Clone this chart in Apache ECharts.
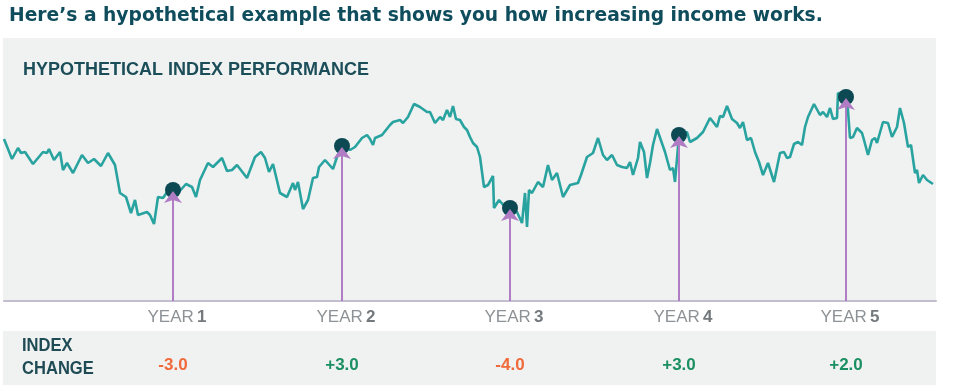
<!DOCTYPE html>
<html>
<head>
<meta charset="utf-8">
<script src="https://cdn.jsdelivr.net/npm/echarts@6/dist/echarts.min.js"></script>
<style>html,body{margin:0;padding:0;background:#fff}#c{width:960px;height:388px}</style>
</head>
<body>
<div id="c"></div>
<script>
// Hypothetical index level by trading day
const indexSeries = [
[0,162],[8,142],[14,153],[17,148],[21,149],[29,137],[39,149],[43,148],[45,152],[50,141],[56,149],[59,131],[63,138],[69,128],[78,146],[84,138],[90,142],[97,135],[104,148],[111,136],[116,108],[122,104],[127,88],[131,101],[134,86],[143,89],[146,86],[150,77],[154,104],[159,103],[166,113],[169,112],[174,108],[182,117],[188,114],[192,104],[196,121],[204,138],[209,134],[218,143],[223,130],[228,131],[233,136],[243,123],[251,144],[257,149],[261,143],[265,129],[269,137],[276,108],[283,104],[289,118],[291,111],[294,119],[299,92],[304,101],[309,123],[313,124],[315,134],
[321,141],[329,132],[333,144],[338,156],[346,151],[351,154],[358,163],[363,166],[366,162],[369,156],[371,163],[378,166],[386,176],[389,179],[396,181],[399,178],[404,184],[410,197],[416,194],[423,189],[426,189],[431,178],[436,184],[439,181],[443,191],[446,184],[449,195],[452,182],[456,181],[460,174],[463,171],[466,164],[469,158],[473,154],[476,144],[480,114],[484,116],[489,125],[490,93],[495,101],[501,94],[506,94],[513,89],[518,78],[521,108],[523,74],[525,111],[528,108],[534,119],[539,114],[544,136],[548,121],[553,128],[559,104],[566,116],[574,118],[577,126],[583,144],[589,148],[594,163],[599,146],[603,141],[608,146],[613,136],[618,134],[623,133],[626,139],[629,126],[634,143],
[636,159],[640,149],[643,123],[646,138],[649,156],[653,172],[661,149],[666,131],[669,133],[671,119],[675,166],[683,169],[686,159],[693,163],[699,169],[706,183],[713,174],[716,185],[719,184],[723,195],[728,182],[733,178],[736,173],[739,179],[743,161],[747,163],[751,149],[755,139],[759,126],[764,138],[770,119],[776,148],[780,149],[783,143],[786,144],[790,157],[794,159],[798,156],[801,174],[804,184],[810,197],[816,186],[819,189],[823,184],[826,193],[829,182],[833,183],[834,208],[843,204],[846,163],[849,164],[853,173],[858,168],[860,161],[864,146],[868,161],[871,163],[873,158],[879,179],[884,178],[888,164],[893,174],[896,193],[900,178],[904,154],[907,156],[911,128],[913,131],[915,118],[919,126],[923,121],[929,117]
];
const yearLabels = ['YEAR 1','YEAR 2','YEAR 3','YEAR 4','YEAR 5'];
const yearDays = [169, 338, 506, 675, 842];
const yearValues = [111, 155, 93, 166, 204];
const indexChange = [-3.0, 3.0, -4.0, 3.0, 2.0];

const chart = echarts.init(document.getElementById('c'), null, {renderer: 'canvas'});
const PURPLE = '#b07cc4';
const fmtChange = v => (v > 0 ? '+' : '') + v.toFixed(1);

chart.setOption({
  animation: false,
  backgroundColor: '#ffffff',
  title: [{
    text: 'Here\u2019s a hypothetical example that shows you how increasing income works.',
    left: 4, top: 2,
    textStyle: {fontFamily: 'DejaVu Sans', fontWeight: 'bold', fontSize: 18.7, color: '#0f4c5c'}
  }, {
    text: 'HYPOTHETICAL INDEX PERFORMANCE',
    left: 18, top: 56,
    textStyle: {fontFamily: 'Liberation Sans', fontWeight: 'bold', fontSize: 18, color: '#1b4e59'}
  }],
  graphic: [
    {type: 'rect', z: -100, silent: true, shape: {x: 3, y: 38, width: 933, height: 263}, style: {fill: '#f0f1f1'}},
    {type: 'rect', z: -100, silent: true, shape: {x: 3, y: 331, width: 933, height: 54}, style: {fill: '#f0f1f1'}},
    {type: 'text', z: 10, x: 22, y: 335, scaleX: 0.92, style: {text: 'INDEX\nCHANGE', fontFamily: 'Liberation Sans', fontWeight: 'bold', fontSize: 18, lineHeight: 23, fill: '#1f4b55'}}
  ],
  grid: {left: 4, right: 24, top: 38, bottom: 87},
  xAxis: [{
    type: 'value', min: 0, max: 932,
    axisLine: {show: true, lineStyle: {color: '#c4bdcf', width: 2}},
    axisTick: {show: false},
    splitLine: {show: false},
    axisLabel: {
      customValues: yearDays,
      margin: 8,
      formatter: v => {
        const i = yearDays.indexOf(v);
        const parts = yearLabels[i].split(' ');
        return '{a|' + parts[0] + '} {b|' + parts[1] + '}';
      },
      rich: {
        a: {fontFamily: 'Liberation Sans', fontSize: 17, color: '#8d9296'},
        b: {fontFamily: 'Liberation Sans', fontSize: 17, fontWeight: 'bold', color: '#74797d'}
      },
      padding: [0, 0, 0, 8]
    }
  }, {
    type: 'value', min: 0, max: 932, position: 'bottom', offset: 50,
    axisLine: {show: false}, axisTick: {show: false}, splitLine: {show: false},
    axisLabel: {
      customValues: yearDays,
      margin: 6,
      formatter: v => {
        const c = indexChange[yearDays.indexOf(v)];
        return '{' + (c < 0 ? 'n' : 'p') + '|' + fmtChange(c) + '}';
      },
      rich: {
        n: {fontFamily: 'Liberation Sans', fontSize: 17, fontWeight: 'bold', color: '#f0693a'},
        p: {fontFamily: 'Liberation Sans', fontSize: 17, fontWeight: 'bold', color: '#1a8f62'}
      }
    }
  }],
  yAxis: {type: 'value', min: 0, max: 263, show: false},
  series: [{
    type: 'line',
    data: indexSeries,
    showSymbol: false,
    z: 2,
    lineStyle: {color: '#28a39f', width: 2.6},
    itemStyle: {color: '#28a39f'}
  }, {
    type: 'custom',
    z: 3,
    data: yearDays.map((d, i) => [d, yearValues[i]]),
    renderItem: (params, api) => {
      const base = api.coord([api.value(0), 0]);
      const top = api.coord([api.value(0), api.value(1)]);
      const x = top[0], y = top[1];
      return {
        type: 'group',
        children: [
          {type: 'line', shape: {x1: x, y1: base[1], x2: x, y2: y + 8}, style: {stroke: PURPLE, lineWidth: 2}},
          {type: 'circle', shape: {cx: x, cy: y, r: 8}, style: {fill: '#0c4953'}},
          {type: 'polygon', shape: {points: [[x, y + 1], [x + 9, y + 13], [x, y + 10], [x - 9, y + 13]]}, style: {fill: PURPLE}}
        ]
      };
    }
  }]
});
</script>
</body>
</html>
